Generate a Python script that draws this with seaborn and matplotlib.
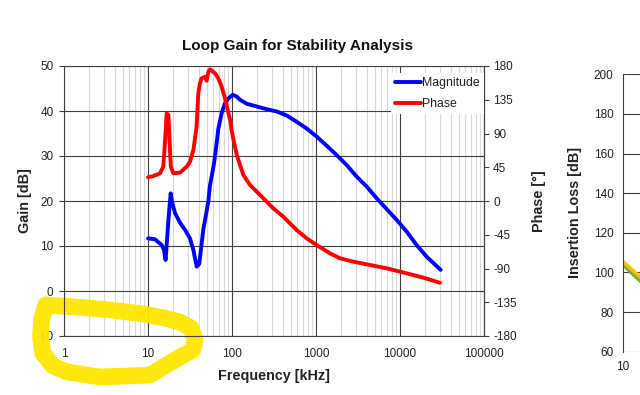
import numpy as np
import pandas as pd
import matplotlib
matplotlib.use("Agg")
import matplotlib.pyplot as plt
from matplotlib.ticker import LogLocator, NullFormatter, FixedLocator, FuncFormatter
import seaborn as sns

sns.set_style("white")
plt.rcParams['font.family'] = ['Liberation Sans', 'DejaVu Sans']
plt.rcParams['axes.unicode_minus'] = False

# loop gain magnitude (kHz, dB)
mag_freq = [10, 12.1, 14.6, 15.5, 16.2, 17.5, 18.6, 19.5, 21, 24, 27.6, 31.6, 34.7, 38, 40.8,
            45.5, 52.2, 54.7, 60, 62.8, 68.7, 75.3, 82.5, 90.3, 102, 114, 124.5, 150, 197, 259,
            340, 448, 589, 775, 1019, 1340, 1763, 2318, 3050, 4010, 5280, 6940, 9130, 12000,
            15800, 20800, 30500]
mag_db = [11.7, 11.5, 10.2, 9.1, 6.9, 15.8, 21.7, 19.5, 17.3, 15.2, 13.6, 11.7, 9.1, 5.4, 6.1,
          13.6, 19.8, 23.5, 27.5, 29.9, 36.0, 39.5, 41.7, 42.8, 43.6, 43.2, 42.5, 41.6, 41.0, 40.4,
          39.9, 39.0, 37.6, 36.1, 34.3, 32.3, 30.2, 28.0, 25.4, 23.2, 20.6, 18.2, 15.8, 13.2,
          10.2, 7.6, 4.7]

# loop phase (kHz, degrees)
ph_freq = [10, 11.6, 13.9, 15.2, 15.9, 16.7, 17.5, 18.2, 18.7, 20, 24, 28.9, 31.6, 34.7, 37.9,
           39.7, 41.5, 43.5, 47.7, 50, 52.2, 54.7, 62.8, 68.7, 75.3, 82.5, 90.3, 95, 100, 104,
           114, 136.5, 164, 197, 236, 310, 408, 589, 775, 1019, 1468, 1932, 2780, 4396, 6940,
           10000, 14400, 18950, 29900]
ph_deg = [31.6, 33.3, 36.9, 45.8, 77, 117, 114.7, 72.4, 45.8, 37, 37.8, 45.8, 52.4, 68, 99,
          143.6, 157, 163.6, 165.7, 160.4, 172, 175.6, 170.3, 163.6, 152.4, 137, 118, 108, 92, 82,
          61.3, 34.7, 21.3, 12.4, 3.6, -9.8, -20.9, -38.7, -49.8, -58.7, -69.8, -76.4, -80.9,
          -85.3, -89.8, -94.2, -98.7, -102.2, -109]

# neighbouring insertion loss chart, only its left edge is visible
il_freq = [10, 20]
il_yellow = [105.5, 91.5]
il_green = [104, 89]

# yellow highlighter loop (kHz, dB on the gain axis)
hl_freq = [0.61, 1.47, 3.53, 8.72, 15.9, 24.0, 32.5, 36.3, 34.3, 24.0, 15.1, 10.6, 2.68,
           1.09, 0.74, 0.56, 0.525, 0.54, 0.61]
hl_gain = [-3.1, -3.6, -4.2, -5.1, -6.0, -6.9, -8.2, -10.7, -13.1, -14.7, -16.9, -18.7, -19.1,
           -18.0, -16.7, -13.8, -10.2, -6.4, -3.1]

mag = pd.DataFrame({'freq': mag_freq, 'gain': mag_db})
ph = pd.DataFrame({'freq': ph_freq, 'phase': ph_deg})

grid_dark = '#404040'
grid_light = '#d9d9d9'
txt = '#222222'

fig = plt.figure(figsize=(6.4, 3.95), dpi=100)
ax = fig.add_axes([64/640, 1-336/395, 420/640, 270/395])
ax.set_xscale('log')
sns.lineplot(data=mag, x='freq', y='gain', ax=ax, color='#0000ff', lw=2.8,
             label='Magnitude', legend=False)

ax2 = ax.twinx()
sns.lineplot(data=ph, x='freq', y='phase', ax=ax2, color='#ff0000', lw=2.8,
             label='Phase', legend=False)
ax2.set_xscale('log')

ax.set_xlim(1, 100000)
ax.set_ylim(-10, 50)
ax.set_yticks(range(-10, 51, 10))
ax.xaxis.set_major_locator(LogLocator(base=10, numticks=10))
ax.xaxis.set_major_formatter(FuncFormatter(lambda v, p: f'{v:.0f}'))
ax.xaxis.set_minor_locator(LogLocator(base=10, subs=np.arange(2, 10), numticks=20))
ax.xaxis.set_minor_formatter(NullFormatter())
ax.grid(True, which='major', color=grid_dark, lw=0.8)
ax.grid(True, which='minor', axis='x', color=grid_light, lw=0.8)
ax.set_axisbelow(True)
for s in ax.spines.values():
    s.set_color(grid_dark)
    s.set_linewidth(0.8)
ax.tick_params(axis='both', which='major', direction='out', length=3.5, width=0.8,
               color=grid_dark, labelsize=8.5, labelcolor=txt, pad=4)
ax.tick_params(axis='x', which='minor', length=0)
ax.tick_params(axis='x', which='major', pad=5)
ax.set_xlabel('Frequency [kHz]', fontsize=10.4, fontweight='bold', color=txt)
ax.set_ylabel('Gain [dB]', fontsize=10.4, fontweight='bold', color=txt)
ax.xaxis.set_label_coords(0.5, -0.122)
ax.yaxis.set_label_coords(-0.076, 0.5)

ax.plot(hl_freq, hl_gain, color='#ffe600', lw=12, solid_capstyle='round',
        solid_joinstyle='round', clip_on=False, zorder=2.5, alpha=0.95)

ax2.set_ylim(-180, 180)
ax2.set_yticks(range(-180, 181, 45))
ax2.grid(False)
for s in ax2.spines.values():
    s.set_visible(False)
ax2.spines['right'].set_visible(True)
ax2.spines['right'].set_color(grid_dark)
ax2.spines['right'].set_linewidth(0.8)
ax2.tick_params(axis='y', direction='out', length=3.5, width=0.8, color=grid_dark,
                labelsize=8.5, labelcolor=txt, pad=3)
ax2.set_ylabel('Phase [°]', fontsize=10.4, fontweight='bold', color=txt)
ax2.yaxis.set_label_coords(1.1136, 0.5)
ax2.set_xlabel('')

handles = [ax.lines[0], ax2.lines[0]]
leg = ax2.legend(handles, ['Magnitude', 'Phase'], loc='upper right',
                 bbox_to_anchor=(1.0, 0.975), fontsize=8.8, frameon=True,
                 facecolor='white', edgecolor='none', framealpha=1, fancybox=False,
                 handlelength=2.1, handletextpad=0.1, labelspacing=0.75,
                 borderpad=0.35, borderaxespad=0)
for t in leg.get_texts():
    t.set_color(txt)

fig.text(298/640, 1-46/395, 'Loop Gain for Stability Analysis', ha='center', va='center',
         fontsize=11, fontweight='bold', color='#111111')

# right-hand chart, cut off by the figure edge
ax3 = fig.add_axes([622.7/640, 1-351.7/395, 420/640, 277.4/395])
ax3.set_xscale('log')
sns.lineplot(x=il_freq, y=il_green, ax=ax3, color='#70ad47', lw=2.6)
sns.lineplot(x=il_freq, y=il_yellow, ax=ax3, color='#ffc000', lw=2.6)
ax3.set_xlim(10, 100000)
ax3.set_ylim(60, 200)
ax3.set_yticks(range(60, 201, 20))
ax3.xaxis.set_major_locator(FixedLocator([10]))
ax3.xaxis.set_minor_locator(FixedLocator([]))
ax3.xaxis.set_major_formatter(FuncFormatter(lambda v, p: f'{v:.0f}'))
ax3.grid(True, axis='y', color=grid_dark, lw=0.8)
ax3.set_axisbelow(True)
for s in ax3.spines.values():
    s.set_visible(False)
ax3.spines['left'].set_visible(True)
ax3.spines['left'].set_color(grid_dark)
ax3.spines['left'].set_linewidth(0.8)
ax3.tick_params(axis='both', direction='out', length=3.5, width=0.8, color=grid_dark,
                labelsize=8.5, labelcolor=txt, pad=3)
ax3.set_ylabel('Insertion Loss [dB]', fontsize=10.4, fontweight='bold', color=txt)
ax3.yaxis.set_label_coords(-0.097, 0.5)

fig.savefig('out.png', dpi=100)
